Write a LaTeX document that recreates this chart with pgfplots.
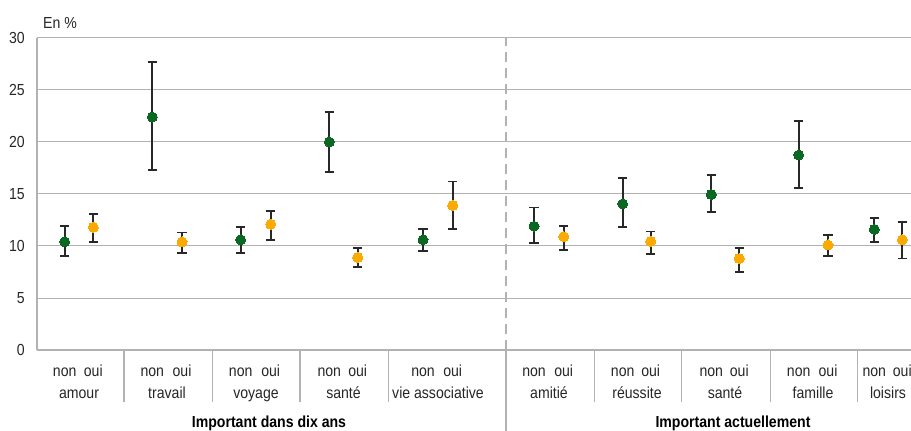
\documentclass[border=0pt]{standalone}
\usepackage{pgfplots}
\pgfplotsset{compat=1.18}
\usepackage{pgfplotstable}
\usepackage{fontspec}
\setmainfont{Liberation Sans}[FakeStretch=0.88]
\definecolor{cgreen}{RGB}{10,104,35}
\definecolor{corange}{RGB}{250,170,0}
\definecolor{cgrid}{RGB}{178,178,178}
\definecolor{cbar}{RGB}{40,40,40}
\newcommand\f{\fontsize{16bp}{19bp}\selectfont}
\pgfplotstableread{
x y hi lo
64.7 10.4 11.9 9.0
152.3 22.4 27.7 17.3
240.7 10.6 11.8 9.3
329.3 20.0 22.9 17.1
423 10.6 11.6 9.5
534 11.9 13.7 10.3
622.7 14.05 16.5 11.8
711.3 14.95 16.8 13.3
798.7 18.75 22.0 15.6
874.3 11.6 12.7 10.4
}\nonT
\pgfplotstableread{
x y hi lo
93.3 11.8 13.1 10.4
182 10.4 11.3 9.3
270.7 12.1 13.4 10.6
357.7 8.9 9.8 8.0
452.7 13.9 16.2 11.65
563.7 10.9 11.9 9.6
650.7 10.45 11.4 9.2
739.3 8.8 9.8 7.5
828 10.1 11.05 9.0
902.3 10.6 12.3 8.8
}\ouiT
\newcommand\cat[2]{\node[font=\f, anchor=base, inner sep=0pt, text=black!85] at ([yshift=-48bp]axis cs:#1,0) {#2};}
\begin{document}
\begin{tikzpicture}
\useasboundingbox (-37bp,-81bp) rectangle (874bp,350bp);
\begin{axis}[
  at={(0,0)}, anchor=south west,
  scale only axis, width=874bp, height=312bp,
  xmin=37, xmax=911, ymin=0, ymax=30,
  axis x line*=bottom, axis y line*=left,
  axis line style={cgrid, line width=1.3bp},
  ytick={0,5,...,30},
  ymajorgrids, grid style={cgrid, line width=1bp},
  major tick length=0pt,
  /pgf/number format/assume math mode=true,
  xtick={64.7,93.3,152.3,182,240.7,270.7,329.3,357.7,423,452.7,534,563.7,622.7,650.7,711.3,739.3,798.7,828,874.3,902.3},
  xticklabels={non,oui,non,oui,non,oui,non,oui,non,oui,non,oui,non,oui,non,oui,non,oui,non,oui},
  yticklabel style={font=\f, inner sep=0pt, anchor=east, xshift=-12bp, color=black!85},
  xticklabel style={font=\f, inner sep=0pt, anchor=base, yshift=-26bp, color=black!85},
  clip=false,
]
\addplot[only marks, mark=none, forget plot,
  error bars/.cd, y dir=both, y explicit, error mark=-,
  error mark options={cbar, mark size=4.7bp, line width=1.8bp, rotate=90},
  error bar style={cbar, line width=1.8bp}]
  table[x=x, y=y, y error plus expr=\thisrow{hi}-\thisrow{y}, y error minus expr=\thisrow{y}-\thisrow{lo}] {\nonT};
\addplot[only marks, mark=none, forget plot,
  error bars/.cd, y dir=both, y explicit, error mark=-,
  error mark options={cbar, mark size=4.7bp, line width=1.8bp, rotate=90},
  error bar style={cbar, line width=1.8bp}]
  table[x=x, y=y, y error plus expr=\thisrow{hi}-\thisrow{y}, y error minus expr=\thisrow{y}-\thisrow{lo}] {\ouiT};
\addplot[only marks, mark=*, mark size=5bp, mark options={fill=cgreen, draw=cgreen, line width=0pt}]
  table[x=x, y=y] {\nonT};
\addplot[only marks, mark=*, mark size=5bp, mark options={fill=corange, draw=corange, line width=0pt}]
  table[x=x, y=y] {\ouiT};
\pgfplotsinvokeforeach{124,212.7,300,388.7,594.3,681.7,770.3,857.3}{
  \draw[cgrid, line width=1.3bp] (axis cs:#1,0) -- ([yshift=-52bp]axis cs:#1,0);
}
\draw[cgrid, line width=1.3bp] (axis cs:506,0) -- ([yshift=-81bp]axis cs:506,0);
\draw[cgrid, line width=1.5bp, dash pattern=on 10bp off 6bp] (axis cs:506,0) -- (axis cs:506,30);
\cat{79}{amour}
\cat{167}{travail}
\cat{256}{voyage}
\cat{343.5}{santé}
\cat{438}{vie associative}
\cat{549}{amitié}
\cat{637}{réussite}
\cat{725}{santé}
\cat{813}{famille}
\cat{888}{loisirs}
\node[font=\f\bfseries, anchor=base, inner sep=0pt] at ([yshift=-77bp]axis cs:269,0) {Important dans dix ans};
\node[font=\f\bfseries, anchor=base, inner sep=0pt] at ([yshift=-77bp]axis cs:733,0) {Important actuellement};
\node[font=\f, anchor=base west, inner sep=0pt, text=black!85] at ([xshift=6bp, yshift=9.7bp]axis cs:37,30) {En \%};
\end{axis}
\end{tikzpicture}
\end{document}
